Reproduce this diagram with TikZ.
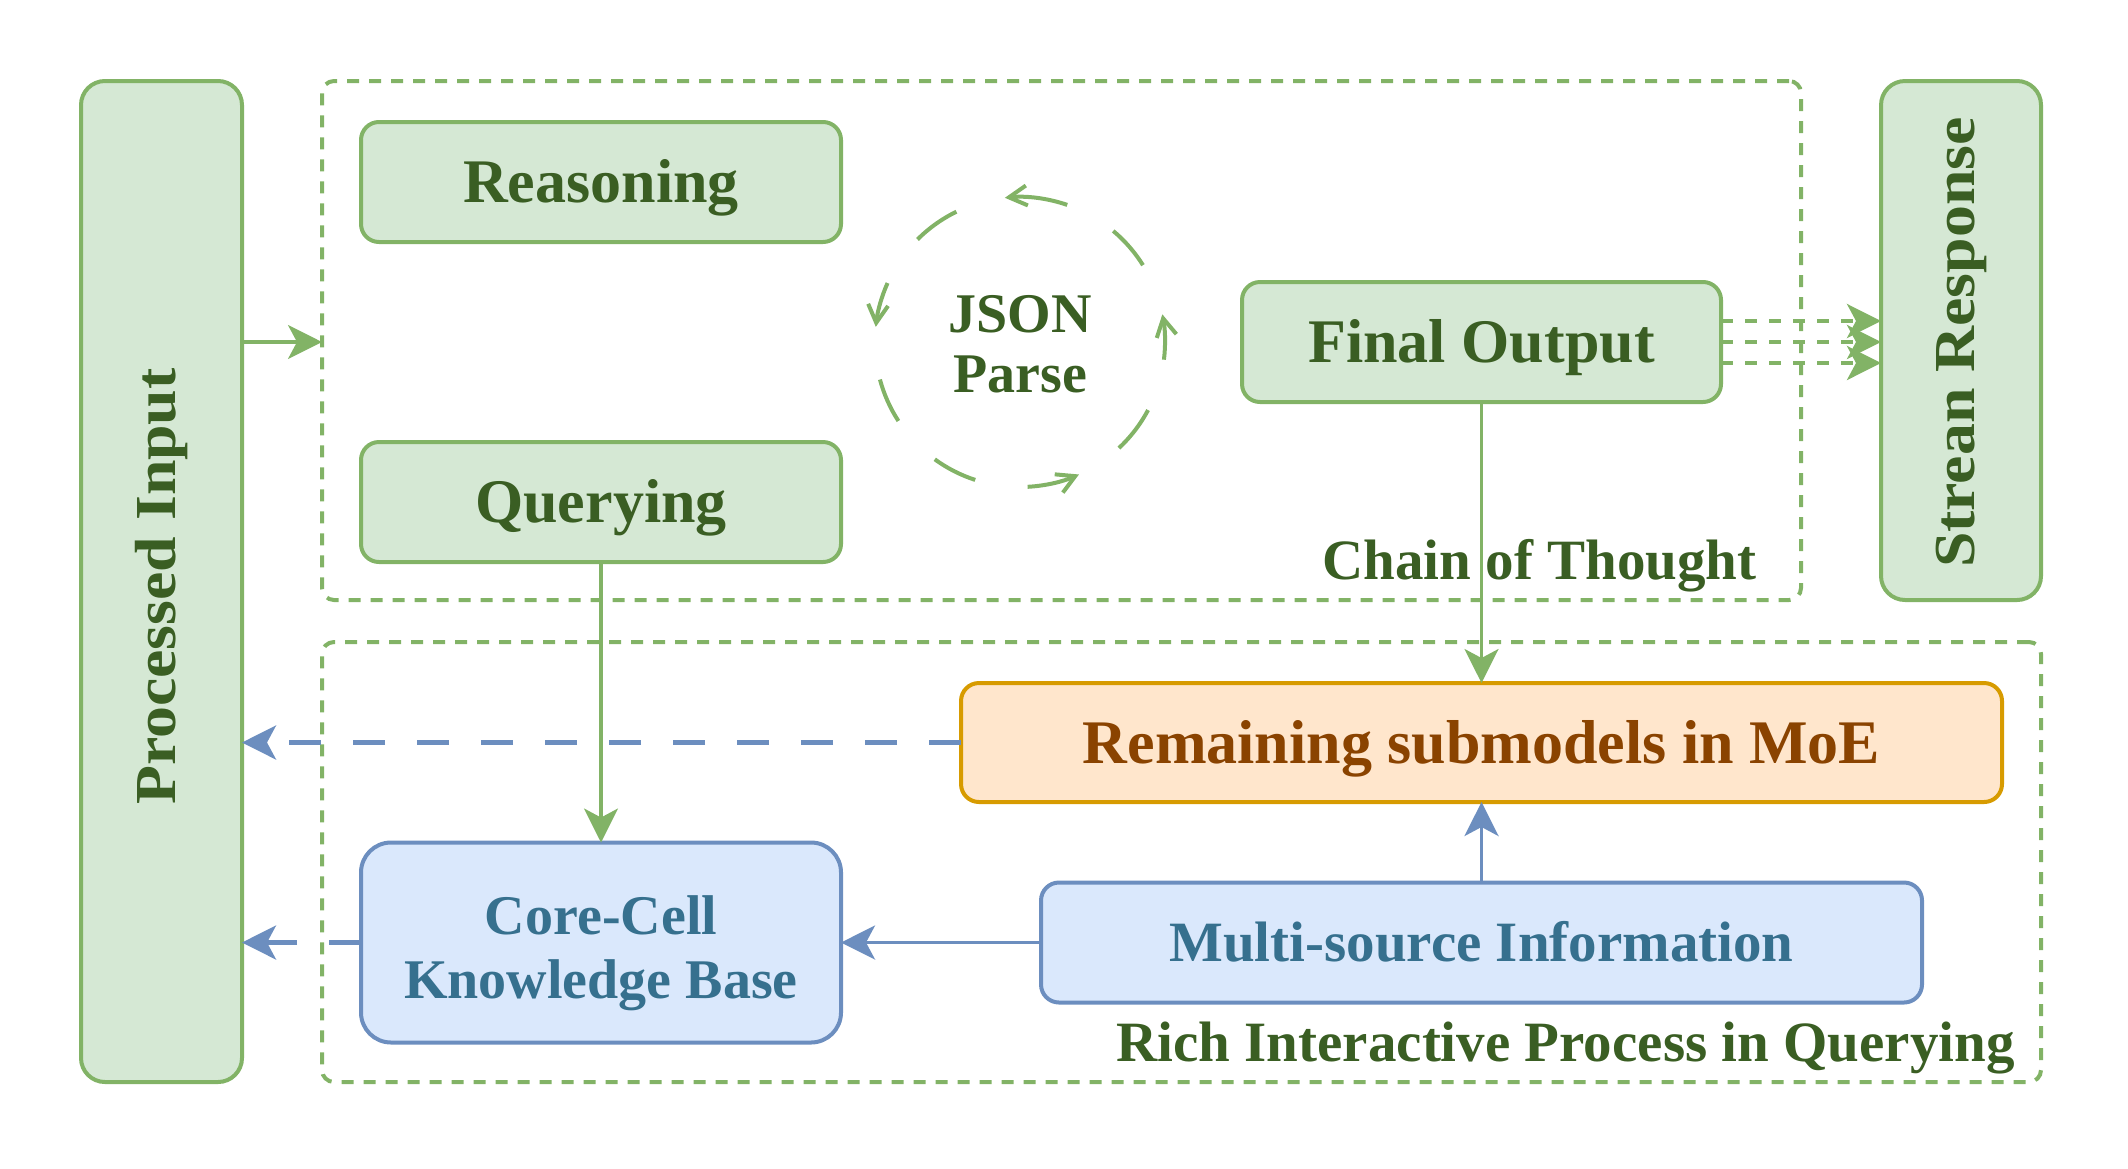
\documentclass[tikz,border=0pt]{standalone}
\usepackage{fontspec}
\newfontfamily\libser{Liberation Serif}
\newfontfamily\widebf{Liberation Serif Bold}[FakeStretch=1.1]
\usetikzlibrary{arrows.meta,calc}
\definecolor{gfill}{HTML}{D5E8D4}
\definecolor{gline}{HTML}{82B366}
\definecolor{gtext}{HTML}{3A5E23}
\definecolor{bfill}{HTML}{DAE8FC}
\definecolor{bline}{HTML}{6C8EBF}
\definecolor{btext}{HTML}{36708E}
\definecolor{ofill}{HTML}{FFE6CC}
\definecolor{oline}{HTML}{D79B00}
\definecolor{otext}{HTML}{8A4300}
\begin{document}
\begin{tikzpicture}[x=0.5pt,y=-0.5pt,
  anybox/.style={line width=2pt, inner sep=0pt, outer sep=0pt, align=center},
  gbox/.style={anybox, draw=gline, fill=gfill, text=gtext, rounded corners=9pt},
  bbox/.style={anybox, draw=bline, fill=bfill, text=btext, rounded corners=9pt},
  obox/.style={anybox, draw=oline, fill=ofill, text=otext, rounded corners=9pt},
  capcenter/.style={text height=20.5pt, text depth=0pt},
  capcentermid/.style={text height=19pt, text depth=0pt},
  container/.style={draw=gline, line width=2pt, dash pattern=on 6pt off 5pt, rounded corners=6pt, inner sep=0pt, outer sep=0pt},
  big/.style={font=\libser\bfseries\fontsize{31}{36}\selectfont},
  mid/.style={font=\libser\bfseries\fontsize{28.5}{32}\selectfont},
  two/.style={font=\libser\bfseries\fontsize{28}{32}\selectfont, align=center, inner sep=0pt},
  rot/.style={font=\widebf\fontsize{29}{32}\selectfont, text=gtext, rotate=90, inner sep=0pt},
  tipbig/.style={-{Stealth[length=17pt,width=17pt,inset=4.5pt]}},
  garrow/.style={tipbig, draw=gline, line width=1.6pt},
  barrow/.style={tipbig, draw=bline, line width=1.8pt},
  bdash/.style={tipbig, draw=bline, line width=2.2pt, dash pattern=on 16pt off 16pt},
  gdash/.style={tipbig, draw=gline, line width=2pt, dash pattern=on 6pt off 6pt},
  loopdash/.style={draw=gline, line width=2pt},
  looptip/.style={loopdash, -{Straight Barb[length=9pt,width=10pt]}}
]
\useasboundingbox (0,0) rectangle (2128,1168);

% containers
\node[container, minimum width=739.5pt, minimum height=259.5pt] (top) at (1061.5,340.5) {};
\node[container, minimum width=859.5pt, minimum height=220pt] (bot) at (1181.5,862) {};

% side boxes
\node[gbox, rounded corners=12pt, minimum width=80.5pt, minimum height=500.5pt] (pi) at (161.5,581.5) {};
\node[rot] (pitext) at ([yshift=-2.5pt]pi.center) {Processed Input};
\node[gbox, rounded corners=12pt, minimum width=80pt, minimum height=259.5pt] (sr) at (1961,340.5) {};
\node[rot] (srtext) at ([yshift=-1pt]sr.center) {Strean Response};

% upper boxes
\node[gbox, big, capcenter, minimum width=240pt, minimum height=60pt] (rea) at (601,182) {Reasoning};
\node[gbox, big, capcenter, minimum width=240pt, minimum height=60pt] (que) at (601,502) {Querying};
\node[gbox, big, capcenter, minimum width=239.5pt, minimum height=60pt] (fo) at (1481.5,342) {Final Output};

% JSON parse loop
\coordinate (jc) at (1020,342);
\node[two, text=gtext, font=\libser\bfseries\fontsize{28}{30}\selectfont] (json) at ([yshift=-1pt]jc) {JSON\\Parse};
\draw[looptip] ($(jc)+(7:145)$) arc[start angle=7, end angle=-11, radius=145];
\draw[loopdash] ($(jc)+(-32:145)$) arc[start angle=-32, end angle=-50, radius=145];
\draw[looptip] ($(jc)+(-71:145)$) arc[start angle=-71, end angle=-96, radius=145];
\draw[loopdash] ($(jc)+(-116:145)$) arc[start angle=-116, end angle=-135, radius=145];
\draw[looptip] ($(jc)+(-156:145)$) arc[start angle=-156, end angle=-174, radius=145];
\draw[loopdash] ($(jc)+(-195:145)$) arc[start angle=-195, end angle=-213, radius=145];
\draw[loopdash] ($(jc)+(-234:145)$) arc[start angle=-234, end angle=-252, radius=145];
\draw[looptip] ($(jc)+(-273:145)$) arc[start angle=-273, end angle=-294, radius=145];
\draw[loopdash] ($(jc)+(-313:145)$) arc[start angle=-313, end angle=-332, radius=145];

% lower boxes
\node[obox, big, capcenter, minimum width=520.5pt, minimum height=59.5pt] (rem) at (1481.5,742.5) {Remaining submodels in MoE};
\node[bbox, rounded corners=15pt, minimum width=240pt, minimum height=100pt] (kb) at (601,942.5) {};
\node[two, text=btext] (kbtext) at ([yshift=-5.5pt]kb.center) {Core-Cell\\Knowledge Base};
\node[bbox, mid, capcentermid, minimum width=440.5pt, minimum height=60pt] (ms) at (1481.5,942.5) {Multi-source Information};

% labels
\node[mid, text=gtext, anchor=base east, inner sep=0pt] (cot) at (1757,579) {Chain of Thought};
\node[mid, text=gtext, anchor=base east, inner sep=0pt] (rich) at (2015,1061) {Rich Interactive Process in Querying};

% connectors
\draw[garrow] (pi.east |- fo.center) -- (top.west |- fo.center);
\draw[garrow] (que.south) -- (kb.north);
\draw[garrow] (fo.south) -- (rem.north);
\draw[gdash] ([yshift=10.5pt]fo.east) -- ([yshift=10.5pt]fo.east -| sr.west);
\draw[gdash] (fo.east) -- (fo.east -| sr.west);
\draw[gdash] ([yshift=-10.5pt]fo.east) -- ([yshift=-10.5pt]fo.east -| sr.west);
\draw[bdash] (rem.west) -- (rem.west -| pi.east);
\draw[bdash] (kb.west) -- (kb.west -| pi.east);
\draw[barrow] (ms.west) -- (kb.east);
\draw[barrow] (ms.north) -- (rem.south);
\end{tikzpicture}
\end{document}
